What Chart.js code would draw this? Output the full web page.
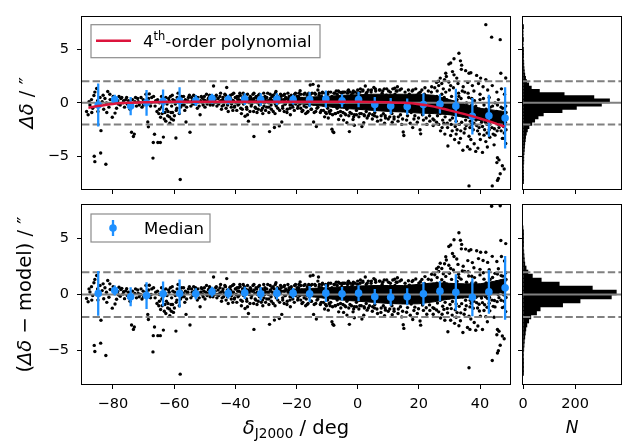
<!DOCTYPE html>
<html>
<head>
<meta charset="utf-8">
<script src="https://cdn.jsdelivr.net/npm/chart.js@4.4.0/dist/chart.umd.min.js"></script>
<style>
body { margin: 0; background: #fff; }
#wrap { position: relative; width: 624px; height: 444px; }
#wrap canvas { position: absolute; left: 0; top: 0; }
</style>
</head>
<body>
<div id="wrap">
  <canvas id="topScatter" width="624" height="444"></canvas>
  <canvas id="topHist" width="624" height="444"></canvas>
  <canvas id="botScatter" width="624" height="444"></canvas>
  <canvas id="botHist" width="624" height="444"></canvas>
</div>
<script>
// ---- axes / ticks ----
const decMin = -90.1, decMax = 49.8;
const offMin = -8, offMax = 8;
const nMax = 376;
const xTicks = [-80, -60, -40, -20, 0, 20, 40];
const yTicks = [-5, 0, 5];
const nTicks = [0, 200];
const guideLines = [-2, 2];
const zeroLine = 0;

// ---- 4th-order polynomial model ----
const modelDec = [-88, -85, -80, -75, -70, -60, -50, -40, -30, -20, -10, 0, 5, 10, 15, 20, 25, 30, 35, 40, 45, 48];
const modelVal = [-0.45, -0.3, -0.1, 0.0, 0.05, 0.1, 0.1, 0.1, 0.1, 0.1, 0.1, 0.1, 0.08, 0.05, 0.0, -0.12, -0.35, -0.7, -1.05, -1.45, -1.9, -2.2];

// ---- binned medians with error bars ----
const binDec = [-84.8, -79.4, -74.2, -69.0, -63.6, -58.2, -52.9, -47.6, -42.3, -36.9, -31.7, -26.4, -21.1, -15.7, -10.4, -5.1, 0.3, 5.6, 10.8, 16.2, 21.5, 26.9, 32.1, 37.5, 42.9, 48.2];
const medianRaw = [-0.2, 0.3, -0.3, 0.0, 0.15, 0.2, 0.2, 0.4, 0.3, 0.35, 0.3, 0.35, 0.3, 0.3, 0.35, 0.2, 0.3, -0.15, -0.3, -0.35, -0.15, -0.1, -0.3, -1.25, -1.2, -1.4];
const medianRes = [0.1, 0.35, -0.2, -0.1, 0.06, 0.09, 0.06, 0.25, 0.1, 0.15, 0.06, 0.1, 0.12, 0.06, 0.12, 0.06, 0.12, -0.2, -0.25, -0.2, 0.06, 0.3, 0.2, -0.24, 0.24, 0.6];
const binSpread = [2.0, 0.45, 0.85, 1.2, 1.1, 1.25, 0.5, 0.45, 0.45, 0.55, 0.6, 0.55, 0.45, 0.7, 0.8, 0.6, 0.7, 0.7, 0.75, 0.75, 1.05, 0.9, 1.6, 1.7, 1.95, 2.85];

// ---- dense core of the scatter (upper / lower envelope) ----
const bandDec = [-22, -15, -10, -5, 0, 5, 10, 15, 20, 25, 30, 35, 40, 45, 48];
const bandRawHi = [0.45, 0.55, 0.6, 0.7, 0.75, 0.8, 0.8, 0.8, 0.8, 0.7, 0.3, -0.1, -0.5, -0.7, -0.8];
const bandRawLo = [0.0, -0.2, -0.35, -0.5, -0.6, -0.7, -0.8, -0.85, -0.95, -1.0, -1.1, -1.35, -1.65, -1.85, -1.95];
const bandResHi = [0.45, 0.55, 0.6, 0.7, 0.75, 0.8, 0.8, 0.8, 0.9, 1.05, 1.0, 0.95, 0.95, 1.2, 1.4];
const bandResLo = [0.0, -0.2, -0.35, -0.5, -0.6, -0.7, -0.8, -0.85, -0.83, -0.65, -0.4, -0.3, -0.2, 0.05, 0.25];

// ---- individual stars: [dec, offset, dec, offset, ...] ----
const ptsSouthRaw = [-88.1,-1.1, -88.6,-0.8, -87.8,0.1, -87.5,-0.2, -87.0,0.3, -86.9,-0.9, -86.6,-0.5, -86.2,0.68, -86.1,-4.96, -85.9,1.0, -85.9,-5.46, -85.3,1.33, -85.0,0.2, -84.9,-0.8, -84.6,-0.3, -84.2,0.5, -84.0,-4.66, -83.9,-2.58, -83.5,0.1, -83.2,0.7, -83.0,-0.6, -82.6,0.4, -82.3,-5.7, -82.1,0.0, -82.0,-0.9, -81.7,1.06, -81.3,-0.4, -81.0,0.8, -80.9,0.3, -80.2,-1.34, -79.9,0.6, -79.5,0.1, -79.3,-0.95, -79.0,0.3, -78.8,-0.5, -78.4,0.2, -78.2,-0.1, -78.0,0.59, -77.6,-0.2, -77.4,0.4, -77.1,0.5, -76.7,0.0, -76.5,0.2, -76.2,-0.4, -75.8,0.3, -75.5,0.5, -75.3,-0.1];
const ptsSouthRes = [-88.1,-0.65, -88.6,-0.35, -87.8,0.5, -87.5,0.23, -87.0,0.7, -86.9,-0.5, -86.6,-0.1, -86.2,1.05, -86.1,-4.55, -85.9,1.35, -85.9,-5.1, -85.3,1.7, -85.0,0.5, -84.9,-0.5, -84.6,0.0, -84.2,0.8, -84.0,-4.35, -83.9,-2.3, -83.5,0.35, -83.2,0.95, -83.0,-0.38, -82.6,0.6, -82.3,-5.45, -82.1,0.2, -82.0,-0.7, -81.7,1.25, -81.3,-0.25, -81.0,0.95, -80.9,0.45, -80.2,-1.22, -79.9,0.7, -79.5,0.2, -79.3,-0.85, -79.0,0.4, -78.8,-0.42, -78.4,0.27, -78.2,-0.03, -78.0,0.65, -77.6,-0.15, -77.4,0.45, -77.1,0.55, -76.7,0.04, -76.5,0.24, -76.2,-0.37, -75.8,0.32, -75.5,0.52, -75.3,-0.09];

// -75 < dec < 15: the model is flat there, both panels show the same stars
const ptsShared = [
  -74.9,0.2, -74.4,-0.6, -73.9,-2.73, -73.3,-3.12, -73.0,-2.9, -72.8,0.1, -72.3,-0.3, -71.9,0.4, -71.4,-0.2, -71.0,0.0, -70.5,-0.4, -70.1,0.3, -69.6,-0.1, -69.2,0.8, -68.6,-1.78, -68.4,-2.23, -68.1,0.83, -67.7,-0.3, -67.3,0.5, -66.9,-5.13, -66.8,-3.68, -66.4,-2.91, -66.0,0.2, -65.6,-0.8, -65.3,-3.68, -65.0,-1.0, -64.5,-3.68, -64.4,-1.34, -64.1,0.6, -63.7,-0.2, -63.5,-3.18, -63.2,-1.5, -62.9,0.1, -62.5,-0.6, -62.1,-1.2, -61.8,0.4, -61.4,-1.9, -61.0,-0.9, -60.6,0.7, -60.2,-1.6, -59.8,0.2, -59.4,-3.27, -59.1,-0.5, -58.7,0.9, -58.3,-1.0, -58.0,-7.12, -57.7,0.3, -57.3,-0.2, -56.9,0.6, -56.5,-0.7, -56.1,-1.78, -55.7,0.1, -55.3,0.5, -54.8,-2.73, -54.5,-0.3, -54.1,0.2, -53.6,0.7, -53.2,-0.1, -52.8,0.4, -52.4,-0.5, -52.0,0.1, -51.5,-1.1, -51.1,0.6, -50.7,0.0, -50.3,0.3, -49.9,-0.4, -49.4,0.8, -49.0,0.1, -48.6,0.5, -48.2,-0.2, -47.7,0.3, -47.1,1.57, -46.8,0.0, -46.4,0.6, -46.0,-0.3, -45.6,0.4, -45.1,0.1,
  -74.7,-0.3, -73.6,0.3, -72.6,0.5, -71.7,0.1, -70.8,0.5, -70.0,-0.2, -69.0,0.2, -68.3,0.4, -67.5,0.0, -66.7,0.6, -66.2,-0.3, -65.4,0.3, -64.8,0.0, -64.0,-0.4, -63.4,0.4, -62.7,0.5, -62.3,-0.1, -61.6,0.2, -61.2,0.6, -60.8,-0.3, -60.4,0.3, -59.6,-0.1, -59.0,0.5, -58.5,0.1, -57.9,-0.4, -57.5,0.6, -57.0,0.1, -56.7,-0.2, -56.3,0.3, -55.9,-0.4, -55.5,0.2, -55.0,0.7, -54.3,0.5, -53.9,-0.1, -53.4,0.3, -53.0,0.6, -52.6,0.0, -52.2,0.5, -51.8,-0.3, -51.3,0.2, -50.9,0.5, -50.5,-0.2, -50.1,0.6, -49.7,0.2, -49.2,-0.1, -48.8,0.4, -48.4,0.7, -48.0,0.0, -47.5,0.5, -47.3,-0.2, -46.6,0.3, -46.2,0.7, -45.8,0.0, -45.4,-0.1, -45.0,0.6, -44.7,0.2, -44.3,-0.3, -44.0,0.5, -43.6,0.1, -43.2,0.7, -42.8,1.42, -42.5,-0.2, -42.1,0.3, -41.8,0.6,
  -64.8,-0.6, -63.9,-1.0, -63.0,-0.9, -62.7,-1.7, -62.0,-0.8, -61.5,-1.3, -60.9,-1.5, -60.5,-0.9, -59.9,-1.2, -59.3,-0.7,
  -41.5,0.4, -41.2,-0.1, -40.9,0.8, -40.6,0.2, -40.3,-0.4, -40.0,0.5, -39.7,0.0, -39.4,0.6, -39.1,-0.2, -38.8,0.3, -38.5,0.9, -38.2,-0.5, -37.9,0.1, -37.6,0.5, -37.3,-0.1, -37.0,0.7, -36.8,-1.25, -36.5,0.2, -36.2,-0.6, -35.9,0.4, -35.7,-1.7, -35.4,0.0, -35.1,0.6, -34.8,-0.3, -34.5,0.3, -34.2,0.8, -33.9,-3.12, -33.6,0.1, -33.3,-0.5, -33.0,0.5, -32.7,0.0, -32.4,0.7, -32.1,-0.2, -31.8,0.3, -31.5,-0.7, -31.2,0.5, -30.9,0.1, -30.6,-0.3, -30.3,0.6, -30.0,0.2, -29.7,-0.4, -29.4,0.9, -29.1,0.0, -28.8,-2.67, -28.5,0.4, -28.2,-0.6, -27.9,0.2, -27.6,0.7, -27.2,-2.29, -26.9,-0.1, -26.7,1.06, -26.4,0.3, -26.1,-0.5, -25.8,0.5, -25.6,-2.14, -25.3,0.1, -25.0,0.6, -24.8,-1.78, -24.5,-0.3, -24.2,0.3, -23.9,0.8, -23.6,-0.1, -23.3,0.4, -23.0,-0.6, -22.7,0.2, -22.4,0.6, -22.1,-0.2, -21.8,0.0, -21.5,0.5, -21.2,-0.4, -20.9,0.3, -20.6,0.8, -20.3,-0.1,
  -38.0,-1.0, -36.0,-1.1, -32.9,-0.9, -31.0,-1.0, -29.0,-0.9, -27.0,-1.0, -24.0,-0.8, -22.0,-1.1, -40.8,-0.7, -34.0,-0.8, -38.9,0.6, -37.4,0.4, -35.3,0.3, -33.8,0.4, -31.6,0.5, -30.4,0.4, -28.6,0.3, -27.3,0.5, -25.5,0.4, -23.8,0.3, -22.5,0.4, -21.0,0.1,
  -18.8,1.12, -15.5,1.66, -14.6,1.72, -12.8,1.57, -13.0,1.2, -14.4,-1.78, -13.5,-2.2, -10.8,-1.3, -9.6,-1.4, -9.0,-1.0, -8.4,-2.44, -8.1,-2.67, -7.8,-2.75, -6.2,-1.55, -4.6,-1.6, -3.5,-1.84, -2.7,-2.67, -1.5,-1.55, -1.1,-2.08, 1.4,-2.2, 2.0,-1.85, 2.5,1.57, 0.9,1.3, 5.3,1.42, -17.0,-1.0, -16.0,0.9, -11.5,1.0, -7.0,1.1, -5.0,1.0, -3.0,1.2,
  -19.8,0.6, -19.5,-0.3, -19.2,0.9, -18.6,-0.5, -18.3,0.4, -17.9,-0.7, -17.6,0.8, -17.2,0.2, -16.8,-0.4, -16.5,0.7, -16.2,-0.8, -15.8,0.5, -15.2,-0.6, -14.9,0.9, -14.2,-0.9, -13.8,0.8, -13.3,-0.5, -12.5,0.9, -12.2,-0.9, -11.8,0.6, -11.2,-0.7, -10.5,0.9, -10.2,-1.0, -9.8,0.8, -9.3,-0.8, -8.8,1.0, -8.2,-1.1, -7.6,0.9, -7.2,-1.0, -6.7,0.8, -6.4,-0.9, -5.9,1.0, -5.5,-1.2, -5.2,0.9, -4.8,-0.9, -4.2,1.0, -3.9,-1.1, -3.3,0.9, -2.9,-1.2, -2.4,1.0, -2.0,-1.0, -1.6,0.9, -1.3,-1.3, -0.8,1.0, -0.4,-1.1, 0.0,0.9, 0.4,-1.3, 0.8,1.0, 1.2,-1.0, 1.7,1.1, 2.2,-1.2, 2.8,0.9, 3.1,-1.4, 3.5,1.2, 3.9,-1.0, 4.4,1.0, 4.8,-1.5,
  12.1,1.36, 5.8,1.3, 6.5,-1.7, 7.1,1.2, 7.6,-1.6, 8.2,1.1, 8.8,-1.9, 9.5,1.3, 10.0,-1.5, 10.7,1.0, 11.3,-1.8, 11.9,-1.3, 12.6,1.1, 13.2,-1.7, 13.8,1.2, 14.4,-2.0, 14.9,-2.7, 5.5,-1.2, 9.0,-1.2, 13.0,1.5, 8.0,0.9,
  -44.8,0.9, -44.5,-0.6, -44.1,0.3, -43.8,-0.2, -43.4,0.8, -43.0,-0.5, -42.6,0.4, -42.3,-0.8, -41.9,0.1, -41.6,0.7, -41.3,-0.4, -40.9,0.2, -40.5,0.9, -40.2,-0.3, -39.8,0.5, -39.5,-0.7, -39.2,0.3, -38.8,-0.1, -38.4,0.7, -38.1,0.2, -37.7,-0.6, -37.4,0.9, -37.0,0.0, -36.7,0.5, -36.3,-0.4, -36.0,0.8, -35.6,0.2, -35.2,-0.8, -34.9,0.5, -34.6,-0.1, -34.2,0.3, -33.9,0.9, -33.5,-0.4, -33.2,0.6, -32.8,0.2, -32.5,-0.6, -32.1,0.8, -31.8,-0.1, -31.4,0.4, -31.1,-0.5, -30.7,0.9, -30.4,0.0, -30.1,-0.7, -29.7,0.5, -29.3,0.2, -29.0,-0.4, -28.6,0.8, -28.3,-0.2, -28.0,0.6, -27.6,-0.8, -27.3,0.1, -26.9,0.9, -26.6,-0.3, -26.2,0.6, -25.9,0.0, -25.5,-0.7, -25.2,0.8, -24.9,0.3, -24.5,-0.5, -24.2,0.7, -23.8,-0.1, -23.5,0.5, -23.1,-0.9, -22.8,0.9, -22.4,0.1, -22.1,-0.5, -21.7,0.7, -21.4,-0.2, -21.0,0.4, -20.7,-0.7, -20.3,0.9, -20.0,0.2,
  -19.6,-0.5, -19.3,0.6, -18.9,-0.1, -18.6,0.8, -18.2,-0.8, -17.9,0.3, -17.5,-0.3, -17.2,0.9, -16.8,0.0, -16.5,-0.9, -16.1,0.5, -15.8,-0.2, -15.4,0.8, -15.1,-0.6, -14.7,0.3, -14.4,-0.1, -14.0,0.9, -13.7,-0.8, -13.3,0.4, -13.0,-0.4, -12.6,0.7, -12.3,0.1, -11.9,-0.7, -11.6,0.9, -11.2,-0.2, -10.9,0.5, -10.5,-0.9, -10.2,0.2, -9.8,-0.5, -9.5,1.0, -9.1,0.0, -8.8,-0.7, -8.4,0.6, -8.1,-0.3, -7.7,0.9, -7.4,-1.0, -7.0,0.3, -6.7,-0.5, -6.3,1.1, -6.0,0.1, -5.6,-0.8, -5.3,0.6, -4.9,-0.2, -4.6,1.0, -4.2,-1.0, -3.9,0.4, -3.5,-0.6, -3.2,1.1, -2.8,0.0, -2.5,-0.9, -2.1,0.7, -1.8,-0.4, -1.4,1.1, -1.1,-1.1, -0.7,0.3, -0.4,-0.7, 0.0,1.2, 0.3,-0.2, 0.7,-1.0, 1.0,0.6, 1.4,-0.5, 1.7,1.2, 2.1,-1.1, 2.4,0.2, 2.8,-0.8, 3.1,1.0, 3.5,-1.2, 3.8,0.5, 4.2,-0.4, 4.5,1.2, 4.9,-1.1, 5.2,0.3, 5.6,-0.9, 5.9,1.1, 6.3,-1.3, 6.6,0.6, 7.0,-0.6, 7.3,1.2, 7.7,-1.2, 8.0,0.2, 8.4,-1.0, 8.7,1.3, 9.1,-1.4, 9.4,0.7, 9.8,-0.5, 10.1,1.1, 10.5,-1.3, 10.8,0.4, 11.2,-1.0, 11.5,1.3, 11.9,-1.5, 12.2,0.8, 12.6,-0.7, 12.9,1.1, 13.3,-1.3, 13.6,0.5, 14.0,-1.1, 14.3,1.3, 14.7,-1.5
];

const ptsNorthRaw = [
  15.1,-3.03, 15.5,1.0, 16.0,-1.6, 16.6,1.2, 17.2,-1.9, 17.8,1.1, 18.4,-1.5, 19.0,1.3, 19.5,-1.8, 20.6,-2.88, 20.4,-2.5, 21.0,1.2, 21.5,-1.6, 22.0,1.4, 22.6,-2.0, 23.1,1.1, 23.6,-1.7, 24.2,1.5, 24.7,-2.1, 18.0,-2.3, 20.0,0.9,
  41.9,7.26, 43.8,6.1, 46.6,5.87, 48.4,2.31, 46.8,2.75, 33.1,4.6, 31.5,4.09, 30.4,3.7, 29.8,3.6, 33.6,3.9, 34.0,3.5, 33.9,3.11, 35.3,2.99, 36.4,2.75, 37.0,2.8, 38.9,2.55, 40.2,2.3, 41.9,2.16, 28.8,2.75, 29.0,2.45, 28.4,2.16, 31.0,2.9, 31.5,2.6, 32.4,2.3, 29.8,1.93, 30.4,1.6, 27.5,1.8, 26.5,1.6, 25.8,1.9, 27.0,2.3, 32.8,1.8, 34.5,1.5, 36.0,1.9, 37.5,1.6, 39.5,1.8, 41.0,1.5, 42.5,1.2, 44.0,1.6, 45.5,1.0, 47.0,1.3, 48.0,0.8, 43.0,0.5, 38.0,1.1, 35.0,1.0, 30.0,1.2, 26.0,1.1, 28.0,1.3, 33.0,0.9, 40.0,0.8, 46.0,0.3,
  25.3,0.4, 25.6,-0.5, 26.1,-1.2, 26.7,0.2, 27.2,-0.8, 27.8,-1.6, 28.3,0.5, 28.9,-0.3, 29.3,-1.9, 29.9,-1.0, 30.5,0.1, 31.0,-1.4, 31.4,-0.5, 31.9,-2.2, 32.5,0.3, 33.0,-1.1, 33.5,-0.2, 34.0,-1.8, 34.6,-0.7, 35.1,-2.4, 35.6,0.0, 36.1,-1.3, 36.6,-0.4, 37.1,-2.0, 37.7,-1.0, 38.2,0.2, 38.7,-1.6, 39.2,-2.6, 39.8,-0.6, 40.3,-1.3, 40.8,-2.2, 41.3,-0.2, 41.8,-1.8, 42.3,-2.8, 42.8,-1.0, 43.3,-0.4, 43.9,-2.3, 44.4,-1.5, 44.9,-3.0, 45.4,-0.8, 45.9,-2.0, 46.4,-1.2, 46.9,-2.6, 47.4,-0.5, 47.9,-3.3, 48.3,-1.8, 48.5,-2.5,
  29.5,-4.0, 30.4,-3.03, 33.1,-3.71, 33.6,-3.3, 34.4,-4.4, 35.9,-4.07, 36.7,-4.3, 37.0,-3.4, 38.1,-3.8, 38.6,-4.51, 39.3,-4.2, 40.1,-3.4, 40.8,-4.6, 41.9,-3.6, 42.4,-4.1, 43.2,-3.2, 45.7,-5.1, 45.5,-5.55, 46.2,-5.3, 47.3,-5.84, 47.9,-6.14, 46.6,-6.59, 46.0,-7.03, 45.7,-7.2, 36.4,-7.71, 44.0,-7.71, 48.4,-3.77, 47.3,-3.3, 47.9,-2.8, 41.3,-3.0, 43.0,-2.5, 27.6,-2.3, 28.5,-2.9, 30.9,-2.6, 32.2,-2.9, 34.8,-2.8, 36.4,-3.1, 26.5,-2.0, 31.7,-3.4, 44.6,-3.9, 39.8,-2.9, 37.8,-2.5, 25.0,-1.6,
  25.9,0.6, 26.3,-0.2, 27.0,-1.0, 27.5,0.8, 28.0,-0.5, 28.6,-1.3, 29.1,0.3, 29.6,-0.7, 30.2,-1.6, 30.7,0.6, 31.2,-0.9, 31.7,0.0, 32.2,-1.7, 32.7,-0.5, 33.2,-2.0, 33.8,0.4, 34.3,-1.2, 34.8,-0.3, 35.3,-1.6, 35.8,-0.9, 36.3,0.5, 36.8,-1.7, 37.3,-0.2, 37.9,-1.4, 38.4,-0.8, 38.9,-2.1, 39.4,-1.1, 40.0,0.3, 40.5,-1.8, 41.0,-1.0, 41.5,-2.5, 42.0,-0.6, 42.6,-1.5, 43.1,-2.0, 43.6,-1.2, 44.1,-0.3, 44.7,-2.4, 45.2,-1.6, 45.7,-0.2, 46.2,-2.3, 46.7,-0.9, 47.2,-1.7, 47.7,-2.2, 48.1,-1.0, 48.4,-0.3,
  15.8,0.6, 16.3,-1.2, 16.9,0.8, 17.5,-0.9, 18.1,1.2, 18.7,-1.2, 19.3,0.7, 19.9,-1.4, 20.5,1.0, 21.2,-1.1, 21.8,0.8, 22.4,-1.4, 23.0,0.6, 23.5,-1.2, 24.1,1.0, 24.6,-1.5, 25.2,1.4, 25.8,-1.8, 26.4,2.0, 27.1,-2.6, 27.7,0.0, 28.2,-1.9, 28.8,1.0, 29.4,-2.3, 30.0,-0.4, 30.6,-2.0, 31.3,1.4, 31.9,-1.1, 32.5,-2.5, 33.1,0.6, 33.7,-2.6, 34.2,1.1, 34.9,-1.0, 35.5,-2.1, 36.1,0.9, 36.7,-2.3, 37.3,0.4, 38.0,-1.9, 38.6,-0.3, 39.1,-1.3, 39.7,-2.3, 40.4,-0.9, 41.1,0.4, 41.7,-1.4, 42.4,-2.0, 43.0,-0.9, 43.7,-1.7, 44.3,-2.9, 44.9,0.0, 45.6,-2.6, 46.3,-1.4, 46.9,-0.4, 47.5,-2.0, 48.0,-1.6, 48.5,-0.9
];

const ptsNorthRes = [
  15.1,-3.03, 15.5,1.01, 16.0,-1.58, 16.6,1.23, 17.2,-1.86, 17.8,1.16, 18.4,-1.43, 19.0,1.38, 19.5,-1.7, 20.6,-2.74, 20.4,-2.37, 21.0,1.35, 21.5,-1.42, 22.0,1.6, 22.6,-1.77, 23.1,1.36, 23.6,-1.42, 24.2,1.81, 24.7,-1.77, 18.0,-2.24, 20.0,1.02,
  43.8,7.89, 46.6,7.93, 48.4,4.55, 46.8,4.83, 33.1,5.52, 31.5,4.89, 30.4,4.43, 29.8,4.29, 33.6,4.85, 34.0,4.48, 33.9,4.08, 35.3,4.06, 36.4,3.91, 37.0,4.01, 38.9,3.91, 40.2,3.77, 41.9,3.78, 28.8,3.37, 29.0,3.08, 28.4,2.75, 31.0,3.67, 31.5,3.4, 32.4,3.17, 29.8,2.62, 30.4,2.33, 27.5,2.32, 26.5,2.05, 25.8,2.31, 27.0,2.79, 32.8,2.69, 34.5,2.52, 36.0,3.03, 37.5,2.85, 39.5,3.21, 41.0,3.04, 42.5,2.87, 44.0,3.41, 45.5,2.95, 47.0,3.4, 48.0,3.0, 43.0,2.22, 38.0,2.39, 35.0,2.05, 30.0,1.9, 26.0,1.52, 28.0,1.86, 33.0,1.81, 40.0,2.25, 46.0,2.3,
  25.3,0.77, 25.6,-0.11, 26.1,-0.77, 26.7,0.67, 27.2,-0.3, 27.8,-1.05, 28.3,1.08, 28.9,0.32, 29.3,-1.25, 29.9,-0.31, 30.5,0.84, 31.0,-0.63, 31.4,0.3, 31.9,-1.37, 32.5,1.17, 33.0,-0.19, 33.5,0.75, 34.0,-0.82, 34.6,0.32, 35.1,-1.34, 35.6,1.1, 36.1,-0.17, 36.6,0.78, 37.1,-0.79, 37.7,0.27, 38.2,1.51, 38.7,-0.25, 39.2,-1.21, 39.8,0.83, 40.3,0.18, 40.8,-0.73, 41.3,1.37, 41.8,-0.19, 42.3,-1.14, 42.8,0.7, 43.3,1.35, 43.9,-0.5, 44.4,0.35, 44.9,-1.11, 45.4,1.14, 45.9,-0.01, 46.4,0.84, 46.9,-0.51, 47.4,1.64, 47.9,-1.11, 48.3,0.43, 48.5,-0.27,
  29.5,-3.33, 30.4,-2.3, 33.1,-2.79, 33.6,-2.35, 34.4,-3.39, 35.9,-2.95, 36.7,-3.12, 37.0,-2.19, 38.1,-2.5, 38.6,-3.2, 39.3,-2.81, 40.1,-1.94, 40.8,-3.13, 41.9,-1.98, 42.4,-2.43, 43.2,-1.46, 45.7,-3.13, 45.5,-3.6, 46.2,-3.28, 47.3,-3.71, 47.9,-3.95, 46.6,-4.53, 46.0,-5.03, 45.7,-5.23, 36.4,-6.55, 44.0,-5.9, 48.4,-1.53, 47.3,-1.17, 47.9,-0.61, 41.3,-1.43, 43.0,-0.78, 27.6,-1.76, 28.5,-2.3, 30.9,-1.84, 32.2,-2.04, 34.8,-1.76, 36.4,-1.95, 26.5,-1.55, 31.7,-2.58, 44.6,-2.04, 39.8,-1.47, 37.8,-1.23, 25.0,-1.25,
  25.9,1.02, 26.3,0.24, 27.0,-0.51, 27.5,1.32, 28.0,0.06, 28.6,-0.7, 29.1,0.94, 29.6,-0.03, 30.2,-0.89, 30.7,1.35, 31.2,-0.12, 31.7,0.82, 32.2,-0.84, 32.7,0.39, 33.2,-1.06, 33.8,1.37, 34.3,-0.2, 34.8,0.74, 35.3,-0.52, 35.8,0.2, 36.3,1.65, 36.8,-0.51, 37.3,1.03, 37.9,-0.12, 38.4,0.52, 38.9,-0.73, 39.4,0.3, 40.0,1.75, 40.5,-0.31, 41.0,0.54, 41.5,-0.92, 42.0,1.03, 42.6,0.18, 43.1,-0.27, 43.6,0.59, 44.1,1.52, 44.7,-0.53, 45.2,0.32, 45.7,1.83, 46.2,-0.28, 46.7,1.19, 47.2,0.42, 47.7,-0.03, 48.1,1.2, 48.4,1.94,
  15.8,0.61, 16.3,-1.17, 16.9,0.84, 17.5,-0.85, 18.1,1.26, 18.7,-1.13, 19.3,0.79, 19.9,-1.28, 20.5,1.14, 21.2,-0.94, 21.8,0.99, 22.4,-1.18, 23.0,0.85, 23.5,-0.93, 24.1,1.3, 24.6,-1.17, 25.2,1.76, 25.8,-1.39, 26.4,2.45, 27.1,-2.1, 27.7,0.54, 28.2,-1.33, 28.8,1.62, 29.4,-1.64, 30.0,0.3, 30.6,-1.26, 31.3,2.19, 31.9,-0.27, 32.5,-1.62, 33.1,1.52, 33.7,-1.64, 34.2,2.1, 34.9,0.04, 35.5,-1.01, 36.1,2.04, 36.7,-1.11, 37.3,1.63, 38.0,-0.61, 38.6,1.04, 39.1,0.08, 39.7,-0.87, 40.4,0.59, 41.1,1.95, 41.7,0.2, 42.4,-0.33, 43.0,0.82, 43.7,0.08, 44.3,-1.06, 44.9,1.89, 45.6,-0.64, 46.3,0.63, 46.9,1.69, 47.5,0.15, 48.0,0.6, 48.5,1.35
];

// ---- histograms (bin centre, count) ----
const histRawWidth = 0.3;
const histRawC = [-7.32, -7.02, -6.72, -6.42, -6.12, -5.82, -5.52, -5.22, -4.92, -4.62, -4.32, -4.02, -3.72, -3.42, -3.12, -2.82, -2.52, -2.22, -1.92, -1.62, -1.32, -1.02, -0.72, -0.42, -0.12, 0.18, 0.48, 0.78, 1.08, 1.38, 1.68, 1.98, 2.28, 2.58, 2.88, 3.18, 3.48, 3.78, 4.08, 4.38, 4.68, 4.98, 5.28, 5.58, 5.88, 6.18, 6.48, 6.78, 7.08];
const histRawN = [1, 1, 1, 1, 2, 2, 3, 3, 3, 4, 5, 6, 7, 9, 10, 13, 17, 23, 34, 45, 58, 78, 150, 205, 301, 332, 272, 158, 63, 32, 22, 14, 10, 7, 5, 4, 3, 3, 2, 1, 1, 1, 0, 0, 1, 0, 0, 0, 1];
const histResWidth = 0.36;
const histResC = [-7.02, -6.66, -6.3, -5.94, -5.58, -5.22, -4.86, -4.5, -4.14, -3.78, -3.42, -3.06, -2.7, -2.34, -1.98, -1.62, -1.26, -0.9, -0.54, -0.18, 0.18, 0.54, 0.9, 1.26, 1.62, 1.98, 2.34, 2.7, 3.06, 3.42, 3.78, 4.14, 4.5, 4.86, 5.22, 5.58, 5.94];
const histResN = [1, 1, 1, 1, 2, 2, 3, 4, 5, 7, 9, 11, 15, 22, 30, 52, 66, 152, 219, 339, 358, 266, 139, 70, 36, 19, 12, 7, 5, 4, 3, 2, 1, 1, 1, 1, 0];

const BLUE = '#1e90ff', RED = '#dc143c', GREY = '#808080';
Chart.defaults.font.family = 'DejaVu Sans';
Chart.defaults.color = '#000';

function xy(flat) {
  const out = [];
  for (let i = 0; i < flat.length; i += 2) out.push({x: flat[i], y: flat[i + 1]});
  return out;
}
function zip(xs, ys) { return xs.map((x, i) => ({x: x, y: ys[i]})); }
function minus(v) { return v < 0 ? '\u2212' + (-v) : String(v); }

function drawRuns(ctx, runs, x, y, size, opt) {
  opt = opt || {};
  ctx.save();
  ctx.translate(x, y);
  if (opt.rotate) ctx.rotate(-Math.PI / 2);
  ctx.fillStyle = '#000';
  ctx.textBaseline = 'alphabetic';
  ctx.textAlign = 'left';
  const font = r => (r.i ? 'italic ' : '') + (size * (r.s || 1)).toFixed(1) + 'px "DejaVu Sans"';
  let total = 0;
  const widths = runs.map(r => { ctx.font = font(r); const w = ctx.measureText(r.t).width; total += w; return w; });
  let cx = opt.left ? 0 : -total / 2;
  runs.forEach((r, i) => { ctx.font = font(r); ctx.fillText(r.t, cx, (r.dy || 0) * size); cx += widths[i]; });
  ctx.restore();
}

function axis(pos, min, max, ticks, size, labels) {
  return {
    type: 'linear', position: pos, min: min, max: max, offset: false,
    afterBuildTicks: s => { s.ticks = ticks.map(v => ({value: v})); },
    afterFit: s => { if (pos === 'left') s.width = size; else s.height = size; },
    grid: { drawOnChartArea: false, drawTicks: true, tickLength: 5, color: '#000', lineWidth: 1, offset: false },
    border: { display: false },
    ticks: { padding: pos === 'left' ? 8 : 7, font: {size: 14.5}, color: '#000', maxRotation: 0, autoSkip: false,
      callback: labels ? v => minus(v) : () => '' }
  };
}

// axes box, snapped to whole pixels so the spines stay crisp
const frame = {
  id: 'frame',
  afterDraw(c) {
    const a = c.chartArea, ctx = c.ctx;
    const l = Math.round(a.left) - 0.5, t = Math.round(a.top) - 0.5;
    const r = Math.round(a.right) + 0.5, b = Math.round(a.bottom) + 0.5;
    ctx.save();
    ctx.strokeStyle = '#000';
    ctx.lineWidth = 1;
    ctx.strokeRect(l, t, r - l, b - t);
    ctx.restore();
  }
};

function hline(v, x0, x1, dashed, order) {
  return { type: 'line', indexAxis: 'x', data: [{x: x0, y: v}, {x: x1, y: v}], showLine: true,
    borderColor: GREY, borderWidth: 2, borderDash: dashed ? [7.4, 3.2] : [], pointRadius: 0, fill: false, order: order, clip: 0 };
}

function errorSegments(med) {
  const out = [];
  binDec.forEach((d, i) => {
    out.push({x: d, y: med[i] - binSpread[i]}, {x: d, y: med[i] + binSpread[i]}, {x: d, y: null});
  });
  return out;
}

function scatterChart(id, area, pts, bandHi, bandLo, med, withModel, xh, decor) {
  const ds = [
    { type: 'line', data: zip(bandDec, bandHi), fill: '+1', backgroundColor: '#000', borderColor: '#000', borderWidth: 1, pointRadius: 0, showLine: true, order: 30, clip: 0 },
    { type: 'line', data: zip(bandDec, bandLo), fill: false, borderColor: '#000', borderWidth: 1, pointRadius: 0, showLine: true, order: 31, clip: 0 },
    { type: 'scatter', data: pts, pointRadius: 1.7, pointBackgroundColor: '#000', pointBorderWidth: 0, showLine: false, order: 20, clip: 0 },
    hline(guideLines[0], decMin, decMax, true, 10),
    hline(guideLines[1], decMin, decMax, true, 10),
    hline(zeroLine, decMin, decMax, false, 10),
    { type: 'line', data: errorSegments(med), showLine: true, spanGaps: false, borderColor: BLUE, borderWidth: 2.3, pointRadius: 0, order: 3, clip: 0 },
    { type: 'scatter', data: zip(binDec, med), pointRadius: 3.8, pointBackgroundColor: BLUE, pointBorderWidth: 0, showLine: false, order: 2, clip: 0 }
  ];
  if (withModel) {
    ds.push({ type: 'line', data: zip(modelDec, modelVal), showLine: true, borderColor: RED, borderWidth: 2.5, pointRadius: 0, cubicInterpolationMode: 'monotone', order: 1, clip: 0 });
  }
  const wy = 50;
  return new Chart(document.getElementById(id), {
    type: 'scatter',
    data: { datasets: ds },
    options: {
      responsive: false, animation: false, devicePixelRatio: 1, events: [],
      layout: { padding: { left: area.left - wy, top: area.top, right: 624 - area.right, bottom: 444 - area.bottom - xh } },
      scales: {
        x: axis('bottom', decMin, decMax, xTicks, xh, xh > 15),
        y: axis('left', offMin, offMax, yTicks, wy, true)
      },
      plugins: { legend: { display: false }, tooltip: { enabled: false } }
    },
    plugins: [frame, { id: 'decor', afterDraw: c => decor(c.ctx, c.chartArea) }]
  });
}

function histChart(id, area, cs, ns, binWidth, xh, labels, decor) {
  const wy = 10;
  // bar thickness = one bin on the offset axis, plus a hair of overlap
  const thick = binWidth * (area.bottom - area.top) / (offMax - offMin) + 0.6;
  return new Chart(document.getElementById(id), {
    type: 'bar',
    data: { datasets: [
      { type: 'bar', data: zip(ns, cs), backgroundColor: '#000', borderWidth: 0, grouped: false,
        barThickness: thick, order: 20 },
      hline(guideLines[0], 0, nMax, true, 10),
      hline(guideLines[1], 0, nMax, true, 10),
      hline(zeroLine, 0, nMax, false, 10)
    ] },
    options: {
      indexAxis: 'y', responsive: false, animation: false, devicePixelRatio: 1, events: [],
      layout: { padding: { left: area.left - wy, top: area.top, right: 624 - area.right, bottom: 444 - area.bottom - xh } },
      scales: {
        x: axis('bottom', 0, nMax, nTicks, xh, labels),
        y: axis('left', offMin, offMax, yTicks, wy, false)
      },
      plugins: { legend: { display: false }, tooltip: { enabled: false } }
    },
    plugins: [frame, { id: 'decor', afterDraw: c => decor && decor(c.ctx, c.chartArea) }]
  });
}

function legendFrame(ctx, x, y, w, h) {
  ctx.save();
  ctx.fillStyle = 'rgba(255,255,255,0.8)';
  ctx.fillRect(x, y, w, h);
  ctx.strokeStyle = '#8c8c8c';
  ctx.lineWidth = 1.2;
  ctx.strokeRect(x, y, w, h);
  ctx.restore();
}

const TITLE = 19.5;

scatterChart('topScatter', {left: 82, top: 10, right: 510, bottom: 189}, xy(ptsSouthRaw.concat(ptsShared, ptsNorthRaw)),
  bandRawHi, bandRawLo, medianRaw, true, 10, (ctx, a) => {
    drawRuns(ctx, [{t: '\u0394\u03b4', i: true}, {t: ' / \u2033'}], a.left - 49, (a.top + a.bottom) / 2, TITLE, {rotate: true});
    legendFrame(ctx, a.left + 9, a.top + 8, 229, 33);
    ctx.save();
    ctx.strokeStyle = RED; ctx.lineWidth = 2.5;
    ctx.beginPath(); ctx.moveTo(a.left + 14, a.top + 24); ctx.lineTo(a.left + 49, a.top + 24); ctx.stroke();
    ctx.restore();
    drawRuns(ctx, [{t: '4'}, {t: 'th', s: 0.7, dy: -0.4}, {t: '-order polynomial'}], a.left + 61, a.top + 30, 16.5, {left: true});
  });

histChart('topHist', {left: 523, top: 10, right: 621, bottom: 189}, histRawC, histRawN, histRawWidth, 10, false, null);

scatterChart('botScatter', {left: 82, top: 205, right: 510, bottom: 384}, xy(ptsSouthRes.concat(ptsShared, ptsNorthRes)),
  bandResHi, bandResLo, medianRes, false, 30, (ctx, a) => {
    drawRuns(ctx, [{t: '('}, {t: '\u0394\u03b4', i: true}, {t: ' \u2212 model) / \u2033'}], a.left - 51, (a.top + a.bottom) / 2, TITLE, {rotate: true});
    drawRuns(ctx, [{t: '\u03b4', i: true}, {t: 'J2000', s: 0.7, dy: 0.22}, {t: ' / deg'}], (a.left + a.right) / 2, a.bottom + 50, TITLE);
    legendFrame(ctx, a.left + 9, a.top + 9, 119, 28);
    ctx.save();
    ctx.strokeStyle = BLUE; ctx.fillStyle = BLUE; ctx.lineWidth = 2.3;
    ctx.beginPath(); ctx.moveTo(a.left + 31, a.top + 15); ctx.lineTo(a.left + 31, a.top + 31); ctx.stroke();
    ctx.beginPath(); ctx.arc(a.left + 31, a.top + 23, 3.8, 0, Math.PI * 2); ctx.fill();
    ctx.restore();
    drawRuns(ctx, [{t: 'Median'}], a.left + 62, a.top + 29, 16.5, {left: true});
  });

histChart('botHist', {left: 523, top: 205, right: 621, bottom: 384}, histResC, histResN, histResWidth, 30, true, (ctx, a) => {
  drawRuns(ctx, [{t: 'N', i: true}], (a.left + a.right) / 2, a.bottom + 48.5, 17);
});
</script>
</body>
</html>
